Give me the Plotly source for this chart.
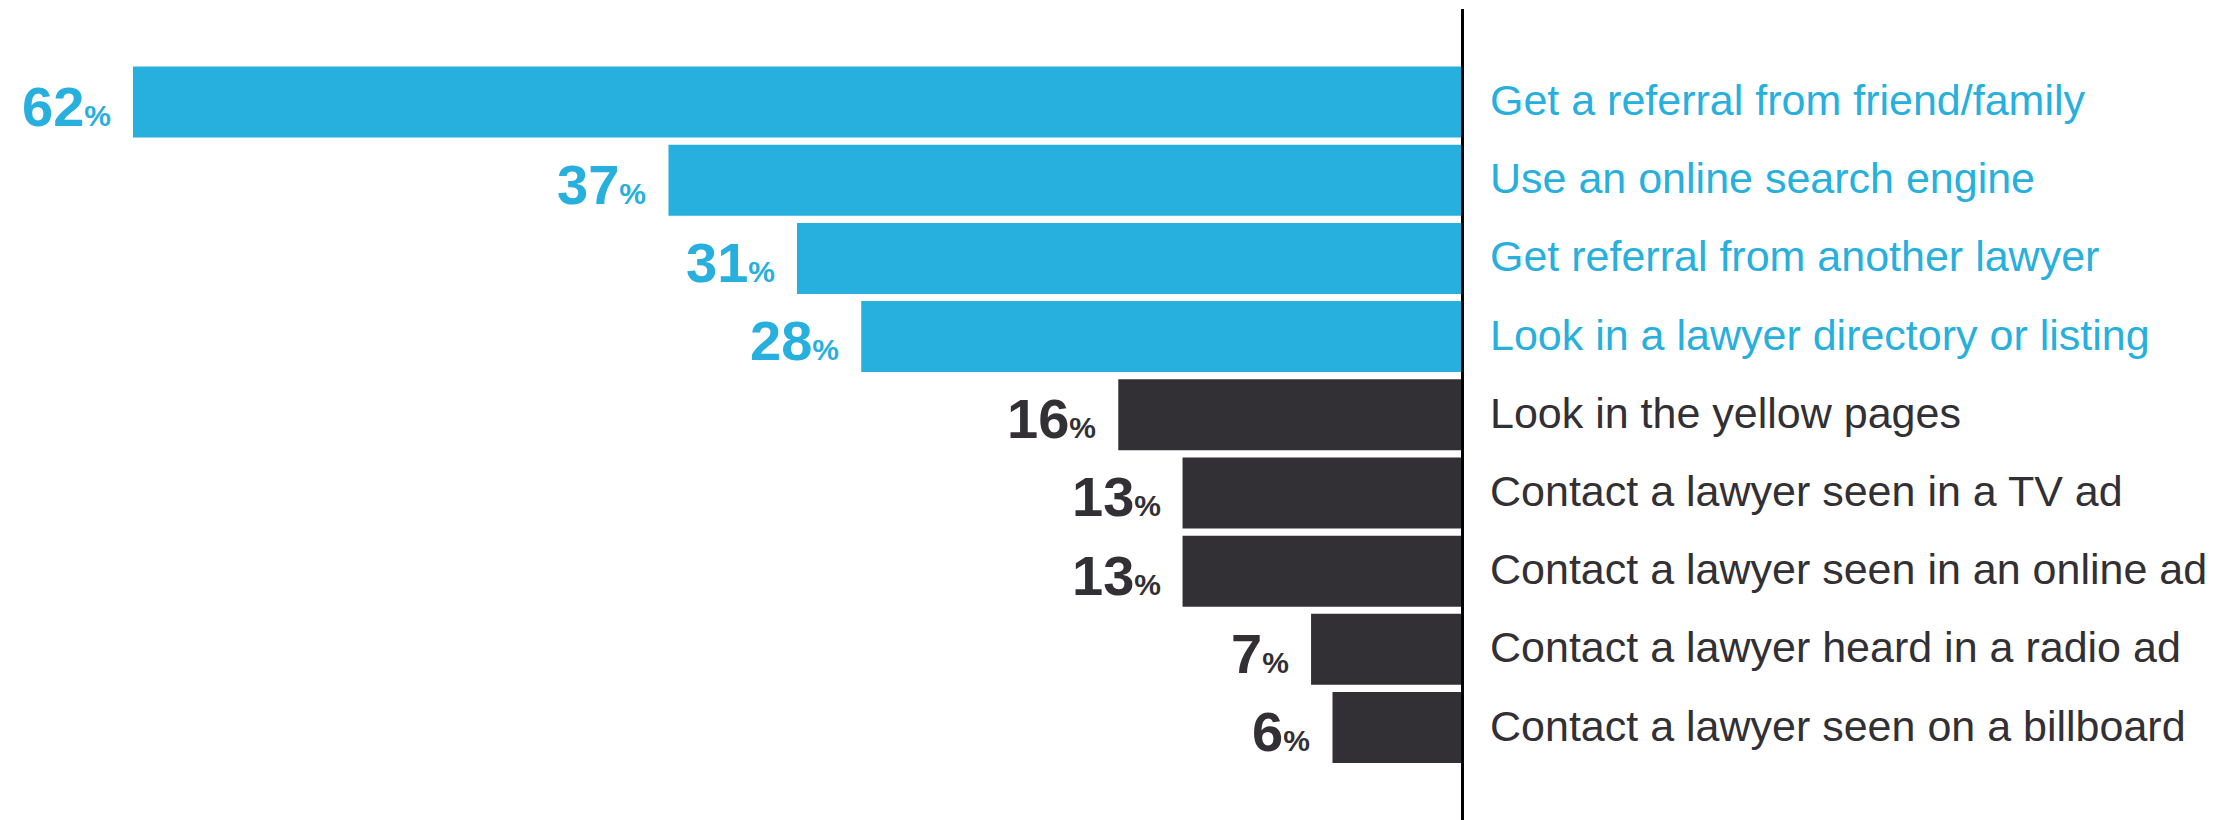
import plotly.graph_objects as go

# Survey: how people would look for a lawyer
methods = [
    "Get a referral from friend/family",
    "Use an online search engine",
    "Get referral from another lawyer",
    "Look in a lawyer directory or listing",
    "Look in the yellow pages",
    "Contact a lawyer seen in a TV ad",
    "Contact a lawyer seen in an online ad",
    "Contact a lawyer heard in a radio ad",
    "Contact a lawyer seen on a billboard",
]
shares = [62, 37, 31, 28, 16, 13, 13, 7, 6]
groups = ["top", "top", "top", "top", "other", "other", "other", "other", "other"]

BLUE = "#27AFDE"
DARK = "#323034"
palette = {"top": BLUE, "other": DARK}
colors = [palette[g] for g in groups]

W, H = 2232, 820
PX_PER_PCT = 21.42
ZERO_PX = 1461
x_hi = ZERO_PX / PX_PER_PCT
x_lo = x_hi - W / PX_PER_PCT

ROW_TOP = 102.0
ROW_PITCH = 78.19
y_top = -ROW_TOP / ROW_PITCH
y_bot = (H - ROW_TOP) / ROW_PITCH

FONT = "Liberation Sans, Arial, sans-serif"

fig = go.Figure(
    go.Bar(
        x=shares,
        y=methods,
        orientation="h",
        marker=dict(color=colors, line=dict(width=0)),
        hoverinfo="skip",
    )
)

annotations = []
for m, v, c in zip(methods, shares, colors):
    # value label to the left of the bar
    annotations.append(dict(
        x=v, y=m, xref="x", yref="y",
        text=f"<b>{v}<span style='font-size:30px'>%</span></b>",
        showarrow=False, xanchor="right", yanchor="middle",
        xshift=-20, yshift=-4,
        font=dict(family=FONT, size=56, color=c),
    ))
    # category label right of the axis line
    annotations.append(dict(
        x=0, y=m, xref="x", yref="y",
        text=m,
        showarrow=False, xanchor="left", yanchor="middle",
        xshift=27, yshift=2,
        font=dict(family=FONT, size=43, color=c),
    ))

fig.update_layout(
    width=W, height=H,
    margin=dict(l=0, r=0, t=0, b=0),
    paper_bgcolor="white",
    plot_bgcolor="white",
    bargap=0.092,
    showlegend=False,
    xaxis=dict(range=[x_hi, x_lo], visible=False, fixedrange=True),
    yaxis=dict(
        categoryorder="array", categoryarray=methods,
        range=[y_bot, y_top], visible=False, fixedrange=True,
    ),
    annotations=annotations,
    shapes=[dict(
        type="line", xref="x", yref="paper",
        x0=-1.5 / PX_PER_PCT, x1=-1.5 / PX_PER_PCT,
        y0=0, y1=1 - 9 / H,
        line=dict(color="black", width=3),
    )],
)

fig.write_html("out.html")
